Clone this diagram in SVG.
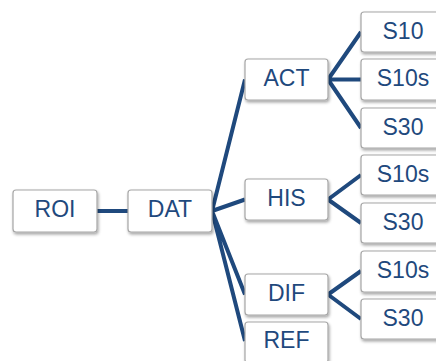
<svg xmlns="http://www.w3.org/2000/svg" width="436" height="361" viewBox="0 0 436 361">
<style>
.box{fill:#ffffff;stroke:#a6a6a6;stroke-width:1.2;filter:url(#sh)}
.lbl{font-family:"Liberation Sans",Arial,sans-serif;font-size:23px;fill:#1f497d;text-anchor:middle}
.con{stroke:#1f497d;stroke-width:4;fill:none;stroke-linecap:butt}
</style>
<defs>
<filter id="sh" x="-20%" y="-20%" width="150%" height="160%">
<feDropShadow dx="1" dy="2" stdDeviation="1.5" flood-color="#000000" flood-opacity="0.35"/>
</filter>
</defs>
<rect width="436" height="361" fill="#ffffff"/>
<g id="connectors">
<path class="con" d="M97,211 H128"/>
<path class="con" d="M212,211 L245,79.5 M212,211 L245,199.5 M212,211 L245,294.5 M212,211 L245,341"/>
<path class="con" d="M328,79.5 L361,32 M328,79.5 L361,79.5 M328,79.5 L361,128"/>
<path class="con" d="M328,199.5 L361,175 M328,199.5 L361,223"/>
<path class="con" d="M328,294.5 L361,271 M328,294.5 L361,319"/>
</g>
<g id="roi"><rect class="box" x="13" y="190" width="84" height="42" rx="3"/><text class="lbl" x="55" y="217">ROI</text></g>
<g id="dat"><rect class="box" x="128" y="190" width="84" height="42" rx="3"/><text class="lbl" x="170" y="217">DAT</text></g>
<g id="act"><rect class="box" x="245" y="59" width="83" height="41" rx="3"/><text class="lbl" x="286.5" y="85.5">ACT</text></g>
<g id="his"><rect class="box" x="245" y="179" width="83" height="41" rx="3"/><text class="lbl" x="286.5" y="205.5">HIS</text></g>
<g id="dif"><rect class="box" x="245" y="274" width="83" height="41" rx="3"/><text class="lbl" x="286.5" y="300.5">DIF</text></g>
<g id="ref"><rect class="box" x="245" y="322" width="83" height="41" rx="3"/><text class="lbl" x="286.5" y="348">REF</text></g>
<g id="act-s10"><rect class="box" x="361" y="12" width="84" height="40" rx="3"/><text class="lbl" x="403" y="38.5">S10</text></g>
<g id="act-s10s"><rect class="box" x="361" y="59" width="84" height="41" rx="3"/><text class="lbl" x="403" y="86">S10s</text></g>
<g id="act-s30"><rect class="box" x="361" y="108" width="84" height="40" rx="3"/><text class="lbl" x="403" y="134.5">S30</text></g>
<g id="his-s10s"><rect class="box" x="361" y="155" width="84" height="40" rx="3"/><text class="lbl" x="403" y="181.5">S10s</text></g>
<g id="his-s30"><rect class="box" x="361" y="203" width="84" height="40" rx="3"/><text class="lbl" x="403" y="229.5">S30</text></g>
<g id="dif-s10s"><rect class="box" x="361" y="251" width="84" height="41" rx="3"/><text class="lbl" x="403" y="277.5">S10s</text></g>
<g id="dif-s30"><rect class="box" x="361" y="299" width="84" height="40" rx="3"/><text class="lbl" x="403" y="325.5">S30</text></g>
</svg>
